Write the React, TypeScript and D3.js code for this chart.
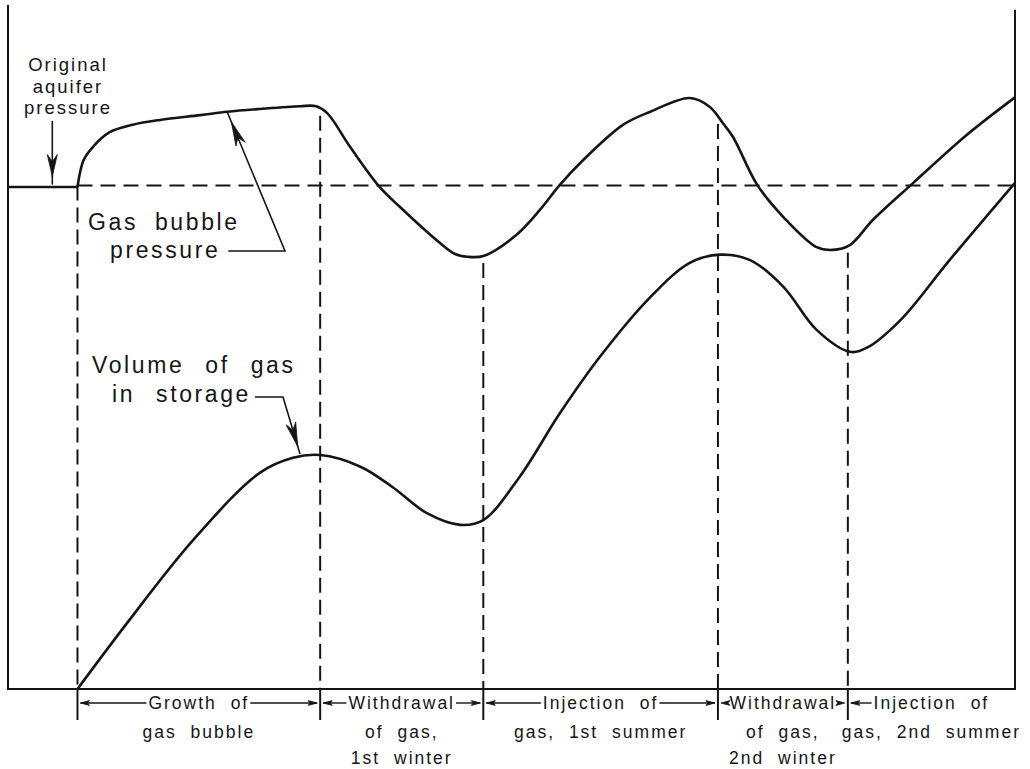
import React, { useEffect, useRef } from 'react';
import * as d3 from 'd3';

const W = 1030;
const H = 769;

// Time in arbitrary units (0-100), values in arbitrary units (0-100)
const pressureT = [0, 6.9, 7.5, 8.4, 10.1, 12.4, 15.1, 19.1, 21.8, 25.0, 29.0, 30.6, 31.7, 34.0, 36.9, 38.9, 42.9, 44.4, 45.6, 47.2, 50.5, 52.8, 54.8, 57.1, 61.1, 63.8, 67.7, 69.7, 71.0, 72.0, 74.4, 77.0, 80.3, 81.9, 83.6, 85.9, 89.9, 95.2, 100];
const pressureV = [73.4, 73.4, 77.3, 79.2, 81.4, 82.5, 83.2, 83.9, 84.4, 84.8, 85.2, 85.2, 84.2, 79.2, 73.4, 70.5, 65.2, 63.6, 63.2, 63.3, 66.4, 70.0, 73.7, 77.3, 82.5, 84.4, 86.4, 85.1, 82.7, 80.7, 73.7, 69.0, 64.6, 64.2, 64.9, 68.6, 74.0, 81.0, 86.5];

const volumeT = [6.9, 11.8, 18.4, 25.0, 28.3, 31.0, 35.0, 38.2, 41.6, 44.9, 47.2, 50.8, 54.8, 58.8, 63.6, 67.7, 70.7, 73.7, 77.0, 80.3, 83.6, 85.3, 88.6, 93.5, 100];
const volumeV = [0, 9.6, 21.8, 31.6, 33.8, 34.2, 32.5, 29.5, 25.7, 24.0, 24.7, 31.0, 40.3, 48.6, 57.0, 62.3, 63.5, 62.7, 58.8, 52.5, 49.3, 49.9, 53.9, 62.7, 74.0];

const originalPressure = 73.6;
const phaseBounds = [6.9, 31.0, 47.2, 70.5, 83.4, 100];
const phaseLabels = [
  ['Growth of', 'gas bubble'],
  ['Withdrawal', 'of gas,', '1st winter'],
  ['Injection of', 'gas, 1st summer'],
  ['Withdrawal', 'of gas,', '2nd winter'],
  ['Injection of', 'gas, 2nd summer'],
];
const originalLabel = ['Original', 'aquifer', 'pressure'];
const bubbleLabel = ['Gas bubble', 'pressure'];
const volumeLabel = ['Volume of gas', 'in storage'];

function valueAt(ts: number[], vs: number[], t: number) {
  for (let i = 0; i < ts.length - 1; i++) {
    if (t >= ts[i] && t <= ts[i + 1]) {
      const f = (t - ts[i]) / (ts[i + 1] - ts[i]);
      return vs[i] + f * (vs[i + 1] - vs[i]);
    }
  }
  return vs[vs.length - 1];
}

export default function App() {
  const ref = useRef<SVGSVGElement>(null);

  useEffect(() => {
    const svg = d3.select(ref.current);
    svg.selectAll('*').remove();
    const ink = '#151515';
    const font = "'Liberation Sans', Arial, sans-serif";

    const x = d3.scaleLinear().domain([0, 100]).range([8, 1015]);
    const y = d3.scaleLinear().domain([0, 100]).range([689, 5]);

    svg.append('rect').attr('width', W).attr('height', H).attr('fill', '#fff');

    // frame
    svg.append('path')
      .attr('d', `M${x(0)},${y(100)}V${y(0)}H${x(100)}V${y(99.3)}`)
      .attr('fill', 'none').attr('stroke', ink).attr('stroke-width', 2);

    // original pressure dashed reference
    svg.append('line')
      .attr('x1', x(phaseBounds[0])).attr('x2', x(100))
      .attr('y1', y(originalPressure)).attr('y2', y(originalPressure))
      .attr('stroke', ink).attr('stroke-width', 2).attr('stroke-dasharray', '15 8');

    // vertical dashed boundaries + ticks
    phaseBounds.slice(0, 5).forEach((b, i) => {
      const top = i === 0 ? y(originalPressure) : y(valueAt(pressureT, pressureV, b)) + 7;
      svg.append('line')
        .attr('x1', x(b)).attr('x2', x(b))
        .attr('y1', top).attr('y2', y(0))
        .attr('stroke', ink).attr('stroke-width', 2).attr('stroke-dasharray', '15 7');
      svg.append('line')
        .attr('x1', x(b)).attr('x2', x(b))
        .attr('y1', y(0)).attr('y2', y(0) + 31)
        .attr('stroke', ink).attr('stroke-width', 2);
    });

    const pPts = pressureT.map((t, i) => [x(t), y(pressureV[i])] as [number, number]);
    const vPts = volumeT.map((t, i) => [x(t), y(volumeV[i])] as [number, number]);
    const lineGen = d3.line().curve(d3.curveCatmullRom.alpha(0.5));
    const straight = d3.line();
    svg.append('path').attr('d', straight(pPts.slice(0, 2))).attr('fill', 'none').attr('stroke', ink).attr('stroke-width', 2.6);
    svg.append('path').attr('d', lineGen(pPts.slice(1))).attr('fill', 'none').attr('stroke', ink).attr('stroke-width', 2.6);
    svg.append('path').attr('d', lineGen(vPts)).attr('fill', 'none').attr('stroke', ink).attr('stroke-width', 2.6);

    // arrowhead
    const head = (x1: number, y1: number, x2: number, y2: number, len: number, hw: number, back: number, notch: number) => {
      const dx = x2 - x1, dy = y2 - y1;
      const L = Math.hypot(dx, dy);
      const ux = dx / L, uy = dy / L;
      const tx = x2 - ux * back, ty = y2 - uy * back;
      const bx = tx - ux * len, by = ty - uy * len;
      const nx = -uy, ny = ux;
      const mx = tx - ux * (len - notch), my = ty - uy * (len - notch);
      svg.append('path')
        .attr('d', `M${tx},${ty}L${bx + nx * hw},${by + ny * hw}L${mx},${my}L${bx - nx * hw},${by - ny * hw}Z`)
        .attr('fill', ink).attr('stroke', ink).attr('stroke-width', 0.8);
    };

    const text = (s: string, tx: number, ty: number, size: number, anchor: string, ls: number, ws = 0) =>
      svg.append('text').text(s)
        .attr('x', tx).attr('y', ty)
        .attr('font-family', font).attr('font-size', size)
        .attr('letter-spacing', ls).attr('word-spacing', ws)
        .attr('text-anchor', anchor).attr('fill', ink);

    // Original aquifer pressure
    const oy = [71, 93, 114];
    originalLabel.forEach((s, i) => text(s, 68, oy[i], 18.5, 'middle', 2));
    const oTipX = x(4.4), oTipY = y(originalPressure) - 1;
    svg.append('line').attr('x1', oTipX).attr('x2', oTipX).attr('y1', 121).attr('y2', oTipY)
      .attr('stroke', ink).attr('stroke-width', 1.6);
    head(oTipX, 121, oTipX, oTipY, 22, 5, 8, 7);

    // Gas bubble pressure
    text(bubbleLabel[0], 88, 230, 23, 'start', 2.6, 8);
    const bp = text(bubbleLabel[1], 110, 258, 23, 'start', 2.6, 8);
    const bpEnd = 110 + (bp.node() as SVGTextElement).getComputedTextLength();
    const bTip: [number, number] = [x(21.8), y(valueAt(pressureT, pressureV, 21.8)) + 1];
    const corner: [number, number] = [285, 251];
    svg.append('path')
      .attr('d', `M${bpEnd + 8},${corner[1]}H${corner[0]}L${bTip[0]},${bTip[1]}`)
      .attr('fill', 'none').attr('stroke', ink).attr('stroke-width', 1.6);
    head(corner[0], corner[1], bTip[0], bTip[1], 24, 5, 10, 7);

    // Volume of gas in storage
    text(volumeLabel[0], 92, 373, 23, 'start', 2.6, 12);
    const vs = text(volumeLabel[1], 112, 402, 23, 'start', 2.6, 12);
    const vsEnd = 112 + (vs.node() as SVGTextElement).getComputedTextLength();
    const vTip: [number, number] = [x(29.0), y(valueAt(volumeT, volumeV, 29.0)) - 3];
    const vCorner: [number, number] = [283, 397];
    svg.append('path')
      .attr('d', `M${vsEnd + 4},${vCorner[1]}H${vCorner[0]}L${vTip[0]},${vTip[1]}`)
      .attr('fill', 'none').attr('stroke', ink).attr('stroke-width', 1.6);
    head(vCorner[0], vCorner[1], vTip[0], vTip[1], 24, 5, 8, 7);

    // bottom phase labels
    const rowY = [709, 738, 764];
    const arrowY = 703;
    phaseLabels.forEach((lines, i) => {
      const l = x(phaseBounds[i]);
      const r = x(phaseBounds[i + 1]);
      const cx = (l + r) / 2;
      let w = 0;
      lines.forEach((s, k) => {
        const t = text(s, cx, rowY[k], 17.5, 'middle', 2, 7);
        if (k === 0) w = (t.node() as SVGTextElement).getComputedTextLength();
      });
      const tl = cx - w / 2 - 2;
      const tr = cx + w / 2 + 1;
      if (tl - (l + 3) > 12) {
        svg.append('line').attr('x1', l + 3).attr('x2', tl).attr('y1', arrowY).attr('y2', arrowY)
          .attr('stroke', ink).attr('stroke-width', 1.4);
      }
      head(tl, arrowY, l + 3, arrowY, 9, 2.4, 0, 2);
      if (i < phaseLabels.length - 1) {
        if ((r - 3) - tr > 12) {
          svg.append('line').attr('x1', tr).attr('x2', r - 3).attr('y1', arrowY).attr('y2', arrowY)
            .attr('stroke', ink).attr('stroke-width', 1.4);
        }
        head(tr - 20, arrowY, r - 3, arrowY, 9, 2.4, 0, 2);
      }
    });
  }, []);

  return (
    <svg
      ref={ref}
      width={W}
      height={H}
      style={{ position: 'absolute', left: 0, top: 0, display: 'block', background: '#fff' }}
    />
  );
}
